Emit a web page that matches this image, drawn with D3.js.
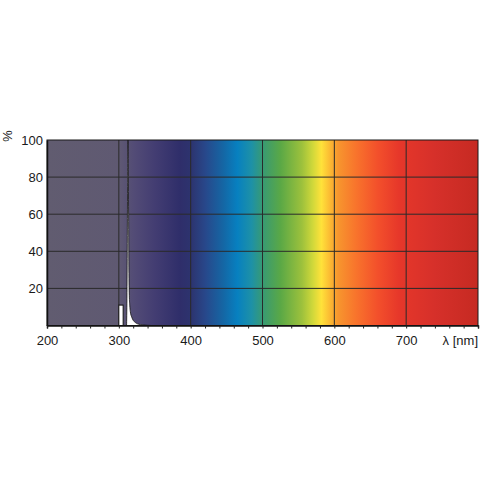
<!DOCTYPE html>
<html>
<head>
<meta charset="utf-8">
<script src="https://cdn.jsdelivr.net/npm/d3@7"></script>
<style>
  body { margin: 0; background: #fff; }
  svg { display: block; font-family: "Liberation Sans", Arial, sans-serif; }
</style>
</head>
<body>
<div id="chart"></div>
<script>
// spectral power distribution, relative %
const waveLengths = [308, 310.7, 311.2, 311.7, 312.2, 312.7, 313.1, 313.6, 314.1, 314.6, 315.2, 316, 318, 320, 323, 326, 330, 335, 340, 345];
const intensity   = [0,   0,     12,    40,    75,    100,   90,    60,    28,    16,    11,    7.5, 4.5, 2.8, 1.6, 0.9, 0.5, 0.25, 0.1, 0];

// the small band next to the peak
const bandStart = [300];
const bandEnd = [306];
const bandValue = [11];

const xTicks = [200, 300, 400, 500, 600, 700];
const yTicks = [20, 40, 60, 80, 100];

// background spectrum colours by wavelength
const stopNm = [200, 300, 320, 350, 385, 400, 420, 445, 465, 485, 500, 525, 555, 570, 582, 595, 605, 630, 660, 690, 740, 800];
const stopColor = ["#615c70", "#5f5972", "#534c76", "#433d72", "#2f2e6a", "#2d336e", "#28478a", "#1566a4", "#0780c0", "#1e91a6", "#379a74", "#5aa846", "#9dc13c", "#d0d83a", "#ffe23a", "#fbb632", "#f7962e", "#f8742c", "#f3502b", "#e6372a", "#d6302a", "#c62a22"];

const w = 480, h = 480;
const x0 = 47, x1 = 478, y0 = 140, y1 = 325.5;

const svg = d3.select("#chart").append("svg")
  .attr("width", w)
  .attr("height", h);

const xScale = d3.scaleLinear().domain([200, 800]).range([x0, x1]);
const yScale = d3.scaleLinear().domain([0, 100]).range([y1, y0]);

// gradient background
const grad = svg.append("defs").append("linearGradient")
  .attr("id", "spectrum")
  .attr("gradientUnits", "userSpaceOnUse")
  .attr("x1", xScale(200)).attr("x2", xScale(800))
  .attr("y1", 0).attr("y2", 0);

grad.selectAll("stop")
  .data(stopNm)
  .enter()
  .append("stop")
  .attr("offset", (d) => (d - 200) / 600)
  .attr("stop-color", (d, i) => stopColor[i]);

svg.append("rect")
  .attr("x", x0).attr("y", y0)
  .attr("width", x1 - x0).attr("height", y1 - y0)
  .attr("fill", "url(#spectrum)");

// grid
svg.append("g")
  .selectAll("line")
  .data(xTicks.slice(1))
  .enter()
  .append("line")
  .attr("x1", (d) => xScale(d)).attr("x2", (d) => xScale(d))
  .attr("y1", y0).attr("y2", y1)
  .attr("stroke", "#2a2a2a")
  .attr("stroke-width", 1);

svg.append("g")
  .selectAll("line")
  .data(yTicks.slice(0, -1))
  .enter()
  .append("line")
  .attr("x1", x0).attr("x2", x1)
  .attr("y1", (d) => yScale(d)).attr("y2", (d) => yScale(d))
  .attr("stroke", "#2a2a2a")
  .attr("stroke-width", 1);

// band
svg.append("g")
  .selectAll("rect")
  .data(bandStart)
  .enter()
  .append("rect")
  .attr("x", (d) => xScale(d))
  .attr("y", (d, i) => yScale(bandValue[i]))
  .attr("width", (d, i) => xScale(bandEnd[i]) - xScale(d))
  .attr("height", (d, i) => yScale(0) - yScale(bandValue[i]))
  .attr("fill", "#fff")
  .attr("stroke", "#111")
  .attr("stroke-width", 1);

// peak
const pts = waveLengths.map((d, i) => ({ nm: d, v: intensity[i] }));
const area = d3.area()
  .x((d) => xScale(d.nm))
  .y0(yScale(0))
  .y1((d) => yScale(d.v))
  .curve(d3.curveMonotoneX);

svg.append("path")
  .datum(pts)
  .attr("d", area)
  .attr("fill", "#fff")
  .attr("stroke", "#111")
  .attr("stroke-width", 0.8);

// frame
svg.append("rect")
  .attr("x", x0).attr("y", y0)
  .attr("width", x1 - x0).attr("height", y1 - y0)
  .attr("fill", "none")
  .attr("stroke", "#1a1a1a")
  .attr("stroke-width", 1);

// x axis with small ticks every 20 nm
const xAxis = d3.axisBottom(xScale)
  .tickValues(d3.range(200, 801, 20))
  .tickSize(3)
  .tickFormat((d) => xTicks.includes(d) ? d : "");

const gx = svg.append("g")
  .attr("transform", "translate(0," + y1 + ")")
  .call(xAxis);
gx.select(".domain").attr("stroke", "#111").attr("stroke-width", 1.5);
gx.selectAll(".tick line").attr("stroke", "#222");
gx.selectAll(".tick text")
  .attr("dy", "0.71em")
  .attr("y", 10)
  .attr("font-size", 13)
  .attr("font-family", "Liberation Sans, Arial, sans-serif")
  .attr("fill", "#1a1a1a");

// y axis labels
const yAxis = d3.axisLeft(yScale)
  .tickValues(yTicks)
  .tickSize(0)
  .tickPadding(4);

const gy = svg.append("g")
  .attr("transform", "translate(" + x0 + ",0)")
  .call(yAxis);
gy.select(".domain").attr("stroke", "#111").attr("stroke-width", 1.5);
gy.selectAll(".tick text")
  .attr("font-size", 13)
  .attr("font-family", "Liberation Sans, Arial, sans-serif")
  .attr("fill", "#1a1a1a");

// axis titles
svg.append("text")
  .text("λ [nm]")
  .attr("x", 478)
  .attr("y", y1 + 10)
  .attr("dy", "0.71em")
  .attr("text-anchor", "end")
  .attr("font-size", 13)
  .attr("fill", "#1a1a1a");

svg.append("text")
  .text("%")
  .attr("transform", "translate(3,136) rotate(90)")
  .attr("text-anchor", "middle")
  .attr("font-size", 13)
  .attr("fill", "#1a1a1a");
</script>
</body>
</html>
